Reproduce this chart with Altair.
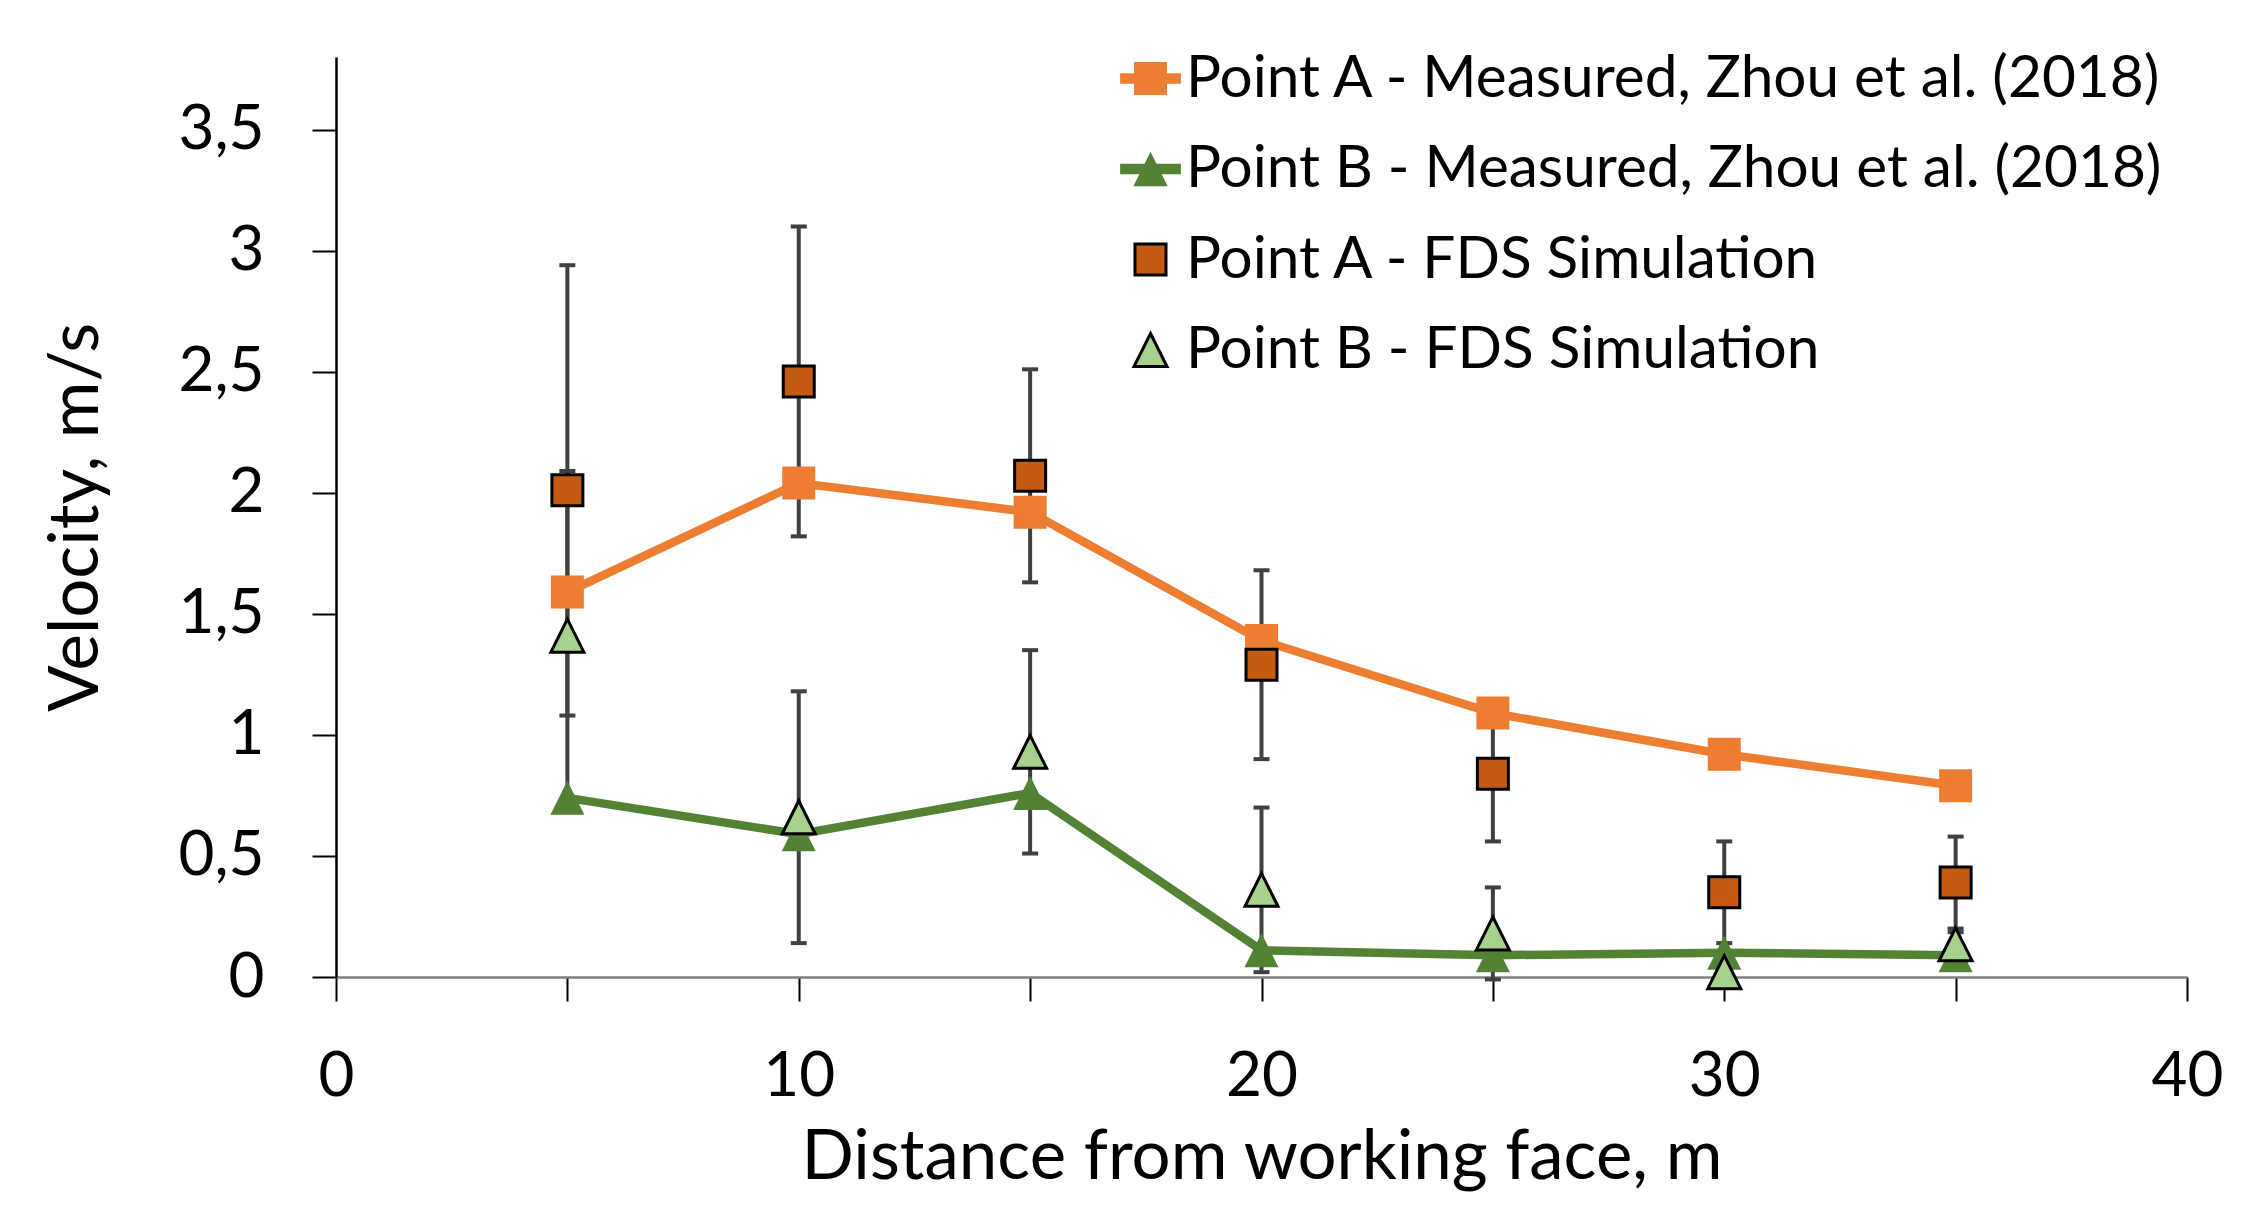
import altair as alt
import pandas as pd

# ---- data ----
x_dist = [5, 10, 15, 20, 25, 30, 35]
a_meas = [1.59, 2.04, 1.92, 1.39, 1.09, 0.92, 0.79]
b_meas = [0.74, 0.59, 0.76, 0.11, 0.09, 0.10, 0.09]
a_fds = [2.01, 2.46, 2.07, 1.29, 0.84, 0.35, 0.39]
a_fds_err = [0.93, 0.64, 0.44, 0.39, 0.28, 0.21, 0.19]
b_fds = [1.41, 0.66, 0.93, 0.36, 0.18, 0.02, 0.135]
b_fds_err = [0.68, 0.52, 0.42, 0.34, 0.19, 0.05, 0.05]

names = [
    "Point A - Measured, Zhou et al. (2018)",
    "Point B - Measured, Zhou et al. (2018)",
    "Point A - FDS Simulation",
    "Point B - FDS Simulation",
]
x_ticks = [0, 5, 10, 15, 20, 25, 30, 35, 40]
y_ticks = [0, 0.5, 1, 1.5, 2, 2.5, 3, 3.5]

ORANGE = "#ED7D31"
GREEN = "#548235"
DARKORANGE = "#C55A11"
LIGHTGREEN = "#A9D18E"
ERR = "#404040"
FONT = "Lato"

TRI = "M0,-1L1,1L-1,1Z"
# legend symbols (unit = sqrt(symbolSize)/2)
LEG_A = "M-0.92,-0.16L0.92,-0.16L0.92,0.16L-0.92,0.16Z M-0.5,-0.5L0.5,-0.5L0.5,0.5L-0.5,0.5Z"
LEG_B = "M-0.92,-0.16L0.92,-0.16L0.92,0.16L-0.92,0.16Z M0,-0.52L0.52,0.52L-0.52,0.52Z"
LEG_C = "M-0.47,-0.47L0.47,-0.47L0.47,0.47L-0.47,0.47Z"
LEG_D = "M0,-0.5L0.5,0.5L-0.5,0.5Z"

dfA = pd.DataFrame({"x": x_dist, "y": a_meas})
dfB = pd.DataFrame({"x": x_dist, "y": b_meas})
dfC = pd.DataFrame({"x": x_dist, "y": a_fds, "lo": [v - e for v, e in zip(a_fds, a_fds_err)],
                    "hi": [v + e for v, e in zip(a_fds, a_fds_err)]})
dfD = pd.DataFrame({"x": x_dist, "y": b_fds, "lo": [v - e for v, e in zip(b_fds, b_fds_err)],
                    "hi": [v + e for v, e in zip(b_fds, b_fds_err)]})
dfErr = pd.concat([dfC, dfD], ignore_index=True)
dfCaps = pd.concat([
    pd.DataFrame({"x": dfErr["x"], "y": dfErr["lo"]}),
    pd.DataFrame({"x": dfErr["x"], "y": dfErr["hi"]}),
], ignore_index=True)
dfLeg = pd.DataFrame({"x": [x_dist[0]] * 4, "y": [a_meas[0], b_meas[0], a_fds[0], b_fds[0]], "series": names})

X = alt.X("x:Q", scale=alt.Scale(domain=[0, 40], nice=False, zero=False),
          axis=alt.Axis(values=x_ticks, labelExpr="datum.value % 10 === 0 ? datum.label : ''",
                        labelFlush=False,
                        title="Distance from working face, m", domainColor="#7F7F7F", domainWidth=2.5,
                        labelPadding=45, titleY=201, titleBaseline="alphabetic"))
Y = alt.Y("y:Q", scale=alt.Scale(domain=[0, 3.8], nice=False, zero=False),
          axis=alt.Axis(values=y_ticks, labelExpr="replace(format(datum.value, '~g'), '.', ',')",
                        labelFlush=False,
                        title="Velocity, m/s", domainColor="black", domainWidth=2.5,
                        labelPadding=48, titleX=-260, titleY=460, titleAngle=-90,
                        titleAlign="center", titleBaseline="middle"))

line_a = alt.Chart(dfA).mark_line(color=ORANGE, strokeWidth=8.5).encode(x=X, y=Y)
line_b = alt.Chart(dfB).mark_line(color=GREEN, strokeWidth=8.5).encode(x="x:Q", y="y:Q")
err_rule = alt.Chart(dfErr).mark_rule(color=ERR, strokeWidth=4).encode(x="x:Q", y="lo:Q", y2="hi:Q")
err_caps = alt.Chart(dfCaps).mark_tick(orient="horizontal", size=16, thickness=4, color=ERR, opacity=1).encode(
    x="x:Q", y="y:Q")
pts_a = alt.Chart(dfA).mark_point(shape="square", filled=True, size=1089, color=ORANGE, opacity=1).encode(
    x="x:Q", y="y:Q")
pts_b = alt.Chart(dfB).mark_point(shape=TRI, filled=True, size=1156, color=GREEN, opacity=1).encode(
    x="x:Q", y="y:Q")
pts_c = alt.Chart(dfC).mark_point(shape="square", filled=True, size=961, fill=DARKORANGE, stroke="black",
                                  strokeWidth=3, opacity=1).encode(x="x:Q", y="y:Q")
pts_d = alt.Chart(dfD).mark_point(shape=TRI, filled=True, size=1089, fill=LIGHTGREEN, stroke="black",
                                  strokeWidth=3, opacity=1).encode(x="x:Q", y="y:Q")

leg = alt.Legend(orient="none", legendX=780, legendY=-13, title=None, labelFont=FONT, labelFontSize=58.5,
                 labelColor="black", labelLimit=0, symbolSize=4356, symbolStrokeWidth=3, symbolOpacity=1,
                 rowPadding=26.5, labelOffset=1, padding=0)
legend_layer = alt.Chart(dfLeg).mark_point(filled=True, opacity=0).encode(
    x="x:Q", y="y:Q",
    shape=alt.Shape("series:N", scale=alt.Scale(domain=names, range=[LEG_A, LEG_B, LEG_C, LEG_D]), legend=leg),
    fill=alt.Fill("series:N", scale=alt.Scale(domain=names, range=[ORANGE, GREEN, DARKORANGE, LIGHTGREEN]),
                  legend=leg),
    stroke=alt.Stroke("series:N", scale=alt.Scale(domain=names,
                                                 range=["transparent", "transparent", "black", "black"]),
                      legend=leg),
)

chart = alt.layer(line_a, line_b, err_rule, err_caps, pts_a, pts_b, pts_c, pts_d, legend_layer).properties(
    width=1851, height=920,
    autosize=alt.AutoSizeParams(type="none"),
    padding={"left": 328, "top": 49, "right": 55, "bottom": 216},
).configure_view(stroke=None).configure_axis(
    labelFont=FONT, labelFontSize=62, labelColor="black",
    titleFont=FONT, titleFontSize=69, titleColor="black", titleFontWeight="normal",
    tickColor="black", tickWidth=2, tickSize=24, grid=False, zindex=0,
)

chart.save("out.html", embed_options={"renderer": "svg", "actions": False})
